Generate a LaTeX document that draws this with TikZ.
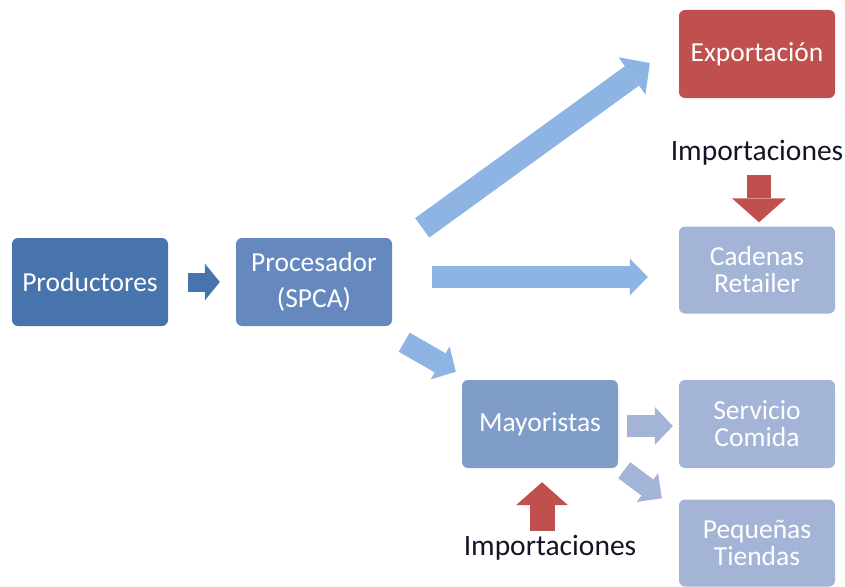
\documentclass[tikz,border=0pt]{standalone}
\usepackage{fontspec}
\setmainfont{Carlito}
\usepackage{xcolor}
\definecolor{prodblue}{RGB}{71,116,172}
\definecolor{procblue}{RGB}{101,137,191}
\definecolor{mayblue}{RGB}{128,157,201}
\definecolor{paleblue}{RGB}{163,180,214}
\definecolor{exportred}{RGB}{192,80,77}
\definecolor{flowblue}{RGB}{141,180,226}
\definecolor{labelink}{RGB}{20,20,40}
\usetikzlibrary{arrows.meta,calc}

\begin{document}
\begin{tikzpicture}[
  x=1pt,y=-1pt,
  stagebox/.style={rounded corners=6pt,minimum width=156pt,minimum height=88pt,
                   align=center,inner sep=0pt,text=white,font=\fontsize{27.5}{27}\selectfont},
  importlabel/.style={text=labelink,inner sep=0pt,font=\fontsize{29.5}{30}\selectfont},
  blockarrow/.style={line width=#1},
]
  \useasboundingbox (0,0) rectangle (845,586);

  % Chain nodes
  \node[stagebox,fill=prodblue] (prod) at (90,282) {Productores};
  \node[stagebox,fill=procblue] (proc) at (314,282) {Procesador\\[9pt](SPCA)};
  \node[stagebox,fill=exportred] (exp) at (757,54) {Exportaci\'on};
  \node[stagebox,fill=paleblue,minimum height=87pt] (cad) at (757,270) {Cadenas\\Retailer};
  \node[stagebox,fill=mayblue] (may) at (540,424) {Mayoristas};
  \node[stagebox,fill=paleblue] (serv) at (757,424) {Servicio\\Comida};
  \node[stagebox,fill=paleblue,minimum height=87pt] (peq) at (757,543) {Peque\~nas\\Tiendas};

  % Import labels
  \node[importlabel] (imp1) at (757,153) {Importaciones};
  \node[importlabel] (imp2) at (550,548) {Importaciones};

  % Flow arrows
  \draw[blockarrow=19pt,prodblue,-{Triangle[length=15pt,width=37pt,line width=0pt]}]
    ($(prod.east)+(20,0)$) -- ($(proc.west)+(-16,0)$);
  \draw[blockarrow=24pt,flowblue,-{Triangle[length=22pt,width=46pt,line width=0pt]}]
    ($(proc.north east)+(30,-10)$) -- ($(exp.west)+(-29,9)$);
  \draw[blockarrow=22pt,flowblue,-{Triangle[length=18pt,width=37pt,line width=0pt]}]
    ($(proc.east)+(40,-5)$) -- ($(cad.west)+(-31,7)$);
  \draw[blockarrow=22pt,flowblue,-{Triangle[length=18pt,width=38pt,line width=0pt]}]
    ($(proc.south east)+(12,16)$) -- ($(may.north west)+(-6,-8)$);
  \draw[blockarrow=22pt,paleblue,-{Triangle[length=18pt,width=38pt,line width=0pt]}]
    ($(may.east)+(9,2)$) -- ($(serv.west)+(-6,2)$);
  \draw[blockarrow=20pt,paleblue,-{Triangle[length=18pt,width=36pt,line width=0pt]}]
    ($(may.south east)+(6,2)$) -- ($(peq.north west)+(-17,-1)$);

  % Import arrows
  \draw[blockarrow=24pt,exportred,-{Triangle[length=24pt,width=54pt,line width=0pt]}]
    ($(imp1.south)+(2,9)$) -- ($(cad.north)+(2,-4)$);
  \draw[blockarrow=25pt,exportred,-{Triangle[length=23pt,width=52pt,line width=0pt]}]
    ($(imp2.north)+(-8,-4)$) -- ($(may.south)+(2,14)$);
\end{tikzpicture}
\end{document}
